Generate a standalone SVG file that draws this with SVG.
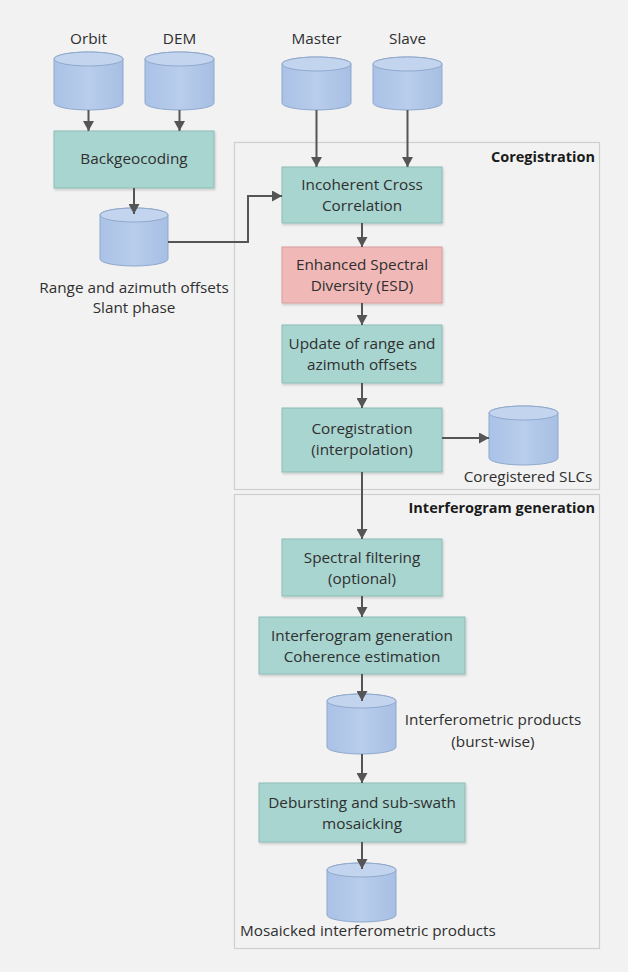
<svg xmlns="http://www.w3.org/2000/svg" width="628" height="972" viewBox="0 0 628 972">
  <defs>
    <linearGradient id="cylGrad" x1="0" y1="0" x2="1" y2="0">
      <stop offset="0" stop-color="#a9c2e6"/>
      <stop offset="0.5" stop-color="#b9cdec"/>
      <stop offset="1" stop-color="#a6bfe3"/>
    </linearGradient>
    <marker id="arrow" markerUnits="userSpaceOnUse" markerWidth="11" markerHeight="11" refX="10" refY="5.5" orient="auto">
      <path d="M0,0 L10,5.5 L0,11 Z" fill="#555555"/>
    </marker>
    <filter id="shadow" x="-10%" y="-10%" width="130%" height="130%">
      <feDropShadow dx="1" dy="1.5" stdDeviation="1" flood-color="#000000" flood-opacity="0.18"/>
    </filter>
  </defs>
  <style>
    .frame { fill: #f2f2f2; stroke: #cfcfcf; stroke-width: 1.2; }
    .proc { fill: #a8d5d0; stroke: #8cbdb7; stroke-width: 1; filter: url(#shadow); }
    .esd { fill: #f0b9b8; stroke: #d79d9b; stroke-width: 1; filter: url(#shadow); }
    .cyl { fill: url(#cylGrad); stroke: #8fa9cc; stroke-width: 1; }
    .cyltop { fill: #c3d4ee; stroke: #8fa9cc; stroke-width: 1; }
    .lbl { font-family: "Open Sans", "Liberation Sans", sans-serif; font-size: 15.3px; fill: #2f2f2f; }
    .mid { text-anchor: middle; }
    .title { font-family: "Open Sans", "Liberation Sans", sans-serif; font-size: 14.5px; font-weight: bold; fill: #1a1a1a; text-anchor: end; }
    .conn { fill: none; stroke: #555555; stroke-width: 2; marker-end: url(#arrow); }
  </style>

  <rect x="0" y="0" width="628" height="972" fill="#f2f2f2"/>

  <!-- group frames -->
  <g id="coregistration-group">
    <rect class="frame" x="234.5" y="142.5" width="365" height="347"/>
    <text class="title" x="595" y="162">Coregistration</text>
  </g>
  <g id="interferogram-group">
    <rect class="frame" x="234.5" y="494.5" width="365" height="454"/>
    <text class="title" x="595" y="513">Interferogram generation</text>
  </g>

  <!-- data stores -->
  <g id="orbit">
    <path class="cyl" d="M54,59 A34.5,7 0 0 1 123,59 L123,103 A34.5,7 0 0 1 54,103 Z"/>
    <path class="cyltop" d="M54,59 A34.5,7 0 0 1 123,59 A34.5,7 0 0 1 54,59 Z"/>
    <text class="lbl mid" x="88.5" y="44">Orbit</text>
  </g>
  <g id="dem">
    <path class="cyl" d="M145,59 A34.5,7 0 0 1 214,59 L214,103 A34.5,7 0 0 1 145,103 Z"/>
    <path class="cyltop" d="M145,59 A34.5,7 0 0 1 214,59 A34.5,7 0 0 1 145,59 Z"/>
    <text class="lbl mid" x="179.5" y="44">DEM</text>
  </g>
  <g id="master">
    <path class="cyl" d="M282,64 A34.5,7 0 0 1 351,64 L351,103 A34.5,7 0 0 1 282,103 Z"/>
    <path class="cyltop" d="M282,64 A34.5,7 0 0 1 351,64 A34.5,7 0 0 1 282,64 Z"/>
    <text class="lbl mid" x="316.5" y="44">Master</text>
  </g>
  <g id="slave">
    <path class="cyl" d="M373,64 A34.5,7 0 0 1 442,64 L442,103 A34.5,7 0 0 1 373,103 Z"/>
    <path class="cyltop" d="M373,64 A34.5,7 0 0 1 442,64 A34.5,7 0 0 1 373,64 Z"/>
    <text class="lbl mid" x="407.5" y="44">Slave</text>
  </g>

  <!-- processing steps -->
  <g id="backgeocoding">
    <rect class="proc" x="54" y="131" width="160" height="57"/>
    <text class="lbl mid" x="134" y="164">Backgeocoding</text>
  </g>
  <g id="offsets">
    <path class="cyl" d="M100,215 A34,7 0 0 1 168,215 L168,259 A34,7 0 0 1 100,259 Z"/>
    <path class="cyltop" d="M100,215 A34,7 0 0 1 168,215 A34,7 0 0 1 100,215 Z"/>
    <text class="lbl mid" x="134" y="293">Range and azimuth offsets</text>
    <text class="lbl mid" x="134" y="313">Slant phase</text>
  </g>
  <g id="cross-correlation">
    <rect class="proc" x="282" y="167" width="160" height="56"/>
    <text class="lbl mid" x="362" y="190">Incoherent Cross</text>
    <text class="lbl mid" x="362" y="211">Correlation</text>
  </g>
  <g id="esd">
    <rect class="esd" x="282" y="247" width="160" height="56"/>
    <text class="lbl mid" x="362" y="270">Enhanced Spectral</text>
    <text class="lbl mid" x="362" y="291">Diversity (ESD)</text>
  </g>
  <g id="update-offsets">
    <rect class="proc" x="282" y="325" width="160" height="58"/>
    <text class="lbl mid" x="362" y="349">Update of range and</text>
    <text class="lbl mid" x="362" y="370">azimuth offsets</text>
  </g>
  <g id="coreg-interp">
    <rect class="proc" x="282" y="408" width="160" height="64"/>
    <text class="lbl mid" x="362" y="434">Coregistration</text>
    <text class="lbl mid" x="362" y="455">(interpolation)</text>
  </g>
  <g id="coregistered-slcs">
    <path class="cyl" d="M489,413 A34.5,7 0 0 1 558,413 L558,458 A34.5,7 0 0 1 489,458 Z"/>
    <path class="cyltop" d="M489,413 A34.5,7 0 0 1 558,413 A34.5,7 0 0 1 489,413 Z"/>
    <text class="lbl mid" x="528" y="482">Coregistered SLCs</text>
  </g>
  <g id="spectral-filtering">
    <rect class="proc" x="282" y="539" width="160" height="57"/>
    <text class="lbl mid" x="362" y="563">Spectral filtering</text>
    <text class="lbl mid" x="362" y="584">(optional)</text>
  </g>
  <g id="interferogram">
    <rect class="proc" x="259" y="617" width="206" height="57"/>
    <text class="lbl mid" x="362" y="641">Interferogram generation</text>
    <text class="lbl mid" x="362" y="662">Coherence estimation</text>
  </g>
  <g id="burst-products">
    <path class="cyl" d="M327,701 A34.5,7 0 0 1 396,701 L396,747 A34.5,7 0 0 1 327,747 Z"/>
    <path class="cyltop" d="M327,701 A34.5,7 0 0 1 396,701 A34.5,7 0 0 1 327,701 Z"/>
    <text class="lbl mid" x="493" y="725">Interferometric products</text>
    <text class="lbl mid" x="493" y="747">(burst-wise)</text>
  </g>
  <g id="debursting">
    <rect class="proc" x="259" y="783" width="206" height="59"/>
    <text class="lbl mid" x="362" y="808">Debursting and sub-swath</text>
    <text class="lbl mid" x="362" y="829">mosaicking</text>
  </g>
  <g id="mosaicked-products">
    <path class="cyl" d="M327,870 A34.5,7 0 0 1 396,870 L396,915 A34.5,7 0 0 1 327,915 Z"/>
    <path class="cyltop" d="M327,870 A34.5,7 0 0 1 396,870 A34.5,7 0 0 1 327,870 Z"/>
    <text class="lbl" x="240" y="936">Mosaicked interferometric products</text>
  </g>

  <!-- connectors -->
  <g id="connectors">
    <path class="conn" d="M88.5,110 V131"/>
    <path class="conn" d="M179.5,110 V131"/>
    <path class="conn" d="M134,188 V214"/>
    <path class="conn" d="M168,242 H248 V196 H282"/>
    <path class="conn" d="M316.5,110 V167"/>
    <path class="conn" d="M407.5,110 V167"/>
    <path class="conn" d="M362,223 V247"/>
    <path class="conn" d="M362,303 V325"/>
    <path class="conn" d="M362,383 V408"/>
    <path class="conn" d="M442,438 H489"/>
    <path class="conn" d="M362,472 V539"/>
    <path class="conn" d="M362,596 V617"/>
    <path class="conn" d="M362,674 V701"/>
    <path class="conn" d="M362,754 V783"/>
    <path class="conn" d="M362,842 V869"/>
  </g>
</svg>
